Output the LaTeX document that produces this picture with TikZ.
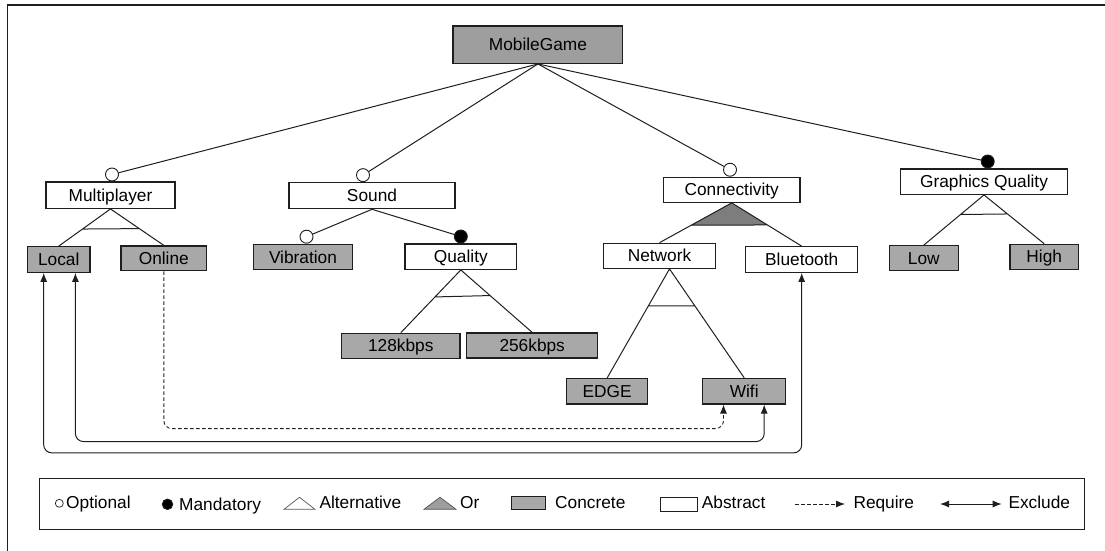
\documentclass[tikz,border=0pt]{standalone}
\usepackage{fontspec}
\setmainfont{Liberation Sans}
\usetikzlibrary{calc,arrows.meta}
\definecolor{concrete}{RGB}{168,168,168}
\definecolor{rootfill}{RGB}{158,158,158}
\definecolor{orfill}{RGB}{125,125,125}
\definecolor{ink}{RGB}{30,30,30}

\begin{document}
\begin{tikzpicture}[x=1pt,y=-1pt,
  feat/.style={draw=ink, line width=1.2pt, minimum height=25.5pt, inner sep=0pt,
               text height=12.2pt, text depth=0pt, font=\fontsize{17.3}{20}\selectfont},
  abstractf/.style={feat, fill=white},
  concretef/.style={feat, fill=concrete},
  opt/.style={circle, draw=ink, fill=white, line width=0.9pt, minimum size=13pt,
              inner sep=0pt, anchor=south},
  mand/.style={opt, fill=black},
  link/.style={draw=ink, line width=1pt},
  excl/.style={link, {Latex[length=9pt,width=7pt]}-{Latex[length=9pt,width=7pt]},
               rounded corners=8pt},
  req/.style={draw=ink, line width=0.9pt, dash pattern=on 3.5pt off 2.5pt,
              -{Latex[length=9pt,width=7pt]}, rounded corners=8pt},
  lbl/.style={anchor=base west, inner sep=0pt, font=\fontsize{17.3}{20}\selectfont},
]
\useasboundingbox (0,0) rectangle (1105,551);

% outer frame
\draw[ink, line width=1.2pt] (7.7,551) -- (7.7,5) -- (1105,5);

% features
\node[concretef, fill=rootfill, minimum width=169.7pt, minimum height=37.3pt] (root) at (537.9,44.7) {MobileGame};

\node[abstractf, minimum width=129pt, minimum height=26.3pt] (mp) at (110.5,195.2) {Multiplayer};
\node[abstractf, minimum width=166pt, minimum height=26pt] (sound) at (372,195.7) {Sound};
\node[abstractf, minimum width=136.7pt, minimum height=25pt] (conn) at (731.7,189.8) {Connectivity};
\node[abstractf, minimum width=166.6pt, minimum height=25.3pt] (gq) at (984,181.7) {Graphics Quality};

\node[concretef, minimum width=62.7pt] (local) at (58.7,259.5) {Local};
\node[concretef, minimum width=85.7pt, minimum height=24.7pt] (online) at (163.8,258.3) {Online};
\node[concretef, minimum width=98.7pt] (vib) at (303,257) {Vibration};
\node[abstractf, minimum width=111.7pt, minimum height=25.3pt] (quality) at (460.8,256.7) {Quality};
\node[concretef, minimum width=118.3pt, minimum height=25pt] (k128) at (400.8,345.8) {128kbps};
\node[concretef, minimum width=131pt, minimum height=25pt] (k256) at (532.2,345.5) {256kbps};
\node[abstractf, minimum width=112.4pt, minimum height=25pt] (net) at (659.5,255.8) {Network};
\node[abstractf, minimum width=112pt] (bt) at (801.7,259.5) {Bluetooth};
\node[concretef, minimum width=81pt] (edge) at (607.2,391.2) {EDGE};
\node[concretef, minimum width=83pt] (wifi) at (744.2,391.2) {Wifi};
\node[concretef, minimum width=69pt, minimum height=25pt] (low) at (923.8,258.2) {Low};
\node[concretef, minimum width=68.3pt, minimum height=25pt] (high) at (1044.2,256.8) {High};

% optional / mandatory markers
\node[opt]  (mp-o)    at ([xshift=1.5pt]mp.north) {};
\node[opt]  (sound-o) at ([xshift=-9pt]sound.north) {};
\node[opt]  (conn-o)  at ([xshift=-1.7pt]conn.north) {};
\node[mand] (gq-m)    at ([xshift=3.7pt]gq.north) {};
\node[opt]  (vib-o)   at ([xshift=3.5pt]vib.north) {};
\node[mand] (qual-m)  at (quality.north) {};

% root decomposition
\draw[link] (root.south) -- (mp-o);
\draw[link] (root.south) -- (sound-o);
\draw[link] (root.south) -- (conn-o);
\draw[link] (root.south) -- (gq-m);

% sound decomposition
\draw[link] (sound.south) -- (vib-o);
\draw[link] (sound.south) -- (qual-m);

% alternative groups
\draw[link] (mp.south) -- (local.north) (mp.south) -- (online.north)
  ($(mp.south)!.54!(local.north)$) -- ($(mp.south)!.54!(online.north)$);
\draw[link] (quality.south) -- (k128.north) (quality.south) -- (k256.north)
  ($(quality.south)!.43!(k128.north)$) -- ($(quality.south)!.41!(k256.north)$);
\coordinate (net-apex) at ([xshift=10pt]net.south);
\draw[link] (net-apex) -- (edge.north) (net-apex) -- (wifi.north)
  ($(net-apex)!.34!(edge.north)$) -- ($(net-apex)!.34!(wifi.north)$);
\draw[link] (gq.south) -- (low.north) (gq.south) -- (high.north)
  ($(gq.south)!.39!(low.north)$) -- ($(gq.south)!.39!(high.north)$);

% or group
\fill[orfill] (conn.south) -- ($(conn.south)!.56!(net.north)$) -- ($(conn.south)!.51!(bt.north)$) -- cycle;
\draw[link] (conn.south) -- (net.north) (conn.south) -- (bt.north)
  ($(conn.south)!.56!(net.north)$) -- ($(conn.south)!.51!(bt.north)$);

% cross-tree constraints
\draw[excl] ([xshift=-15pt]local.south) |- ([yshift=-180pt]bt.south) -- (bt.south);
\draw[excl] ([xshift=16.7pt]local.south) |- ([xshift=20pt,yshift=-37pt]wifi.south) -- ([xshift=20pt]wifi.south);
\draw[req] (online.south) |- ([xshift=-20.7pt,yshift=-24pt]wifi.south) -- ([xshift=-20.7pt]wifi.south);

% legend
\node[draw=ink, line width=1.1pt, minimum width=1045.3pt, minimum height=51pt, inner sep=0pt] (legend) at (562,503.8) {};

\node[opt, anchor=center, minimum size=8pt, line width=0.7pt] (lg-opt) at (59.3,503.3) {};
\node[lbl] (lg-opt-t) at (66,508.5) {Optional};
\node[mand, anchor=center, minimum size=10.5pt] (lg-man) at (167.5,504.3) {};
\node[lbl] (lg-man-t) at (179,510) {Mandatory};
\draw[ink!75, line width=0.7pt, fill=white] (284,509.3) -- (299.5,497.3) -- (315,509.3) -- cycle;
\node[lbl] (lg-alt-t) at (319.3,508) {Alternative};
\draw[ink!75, line width=0.7pt, fill=rootfill] (424,509.3) -- (440,497.3) -- (456,509.3) -- cycle;
\node[lbl] (lg-or-t) at (460,508) {Or};
\node[draw=ink, line width=0.9pt, fill=concrete, minimum width=33.3pt, minimum height=12.6pt, inner sep=0pt] (lg-con) at (528.3,503) {};
\node[lbl] (lg-con-t) at (555,508) {Concrete};
\node[draw=ink, line width=0.9pt, fill=white, minimum width=36.6pt, minimum height=14.4pt, inner sep=0pt] (lg-abs) at (679,504.5) {};
\node[lbl] (lg-abs-t) at (701.7,508) {Abstract};
\coordinate (lg-req-a) at (795,504);
\coordinate (lg-req-b) at (845,504);
\draw[req] (lg-req-a) -- (lg-req-b);
\node[lbl] (lg-req-t) at (853.3,508) {Require};
\coordinate (lg-exc-a) at (940,504);
\coordinate (lg-exc-b) at (1001.7,504);
\draw[excl] (lg-exc-a) -- (lg-exc-b);
\node[lbl] (lg-exc-t) at (1008.3,508) {Exclude};
\end{tikzpicture}
\end{document}
